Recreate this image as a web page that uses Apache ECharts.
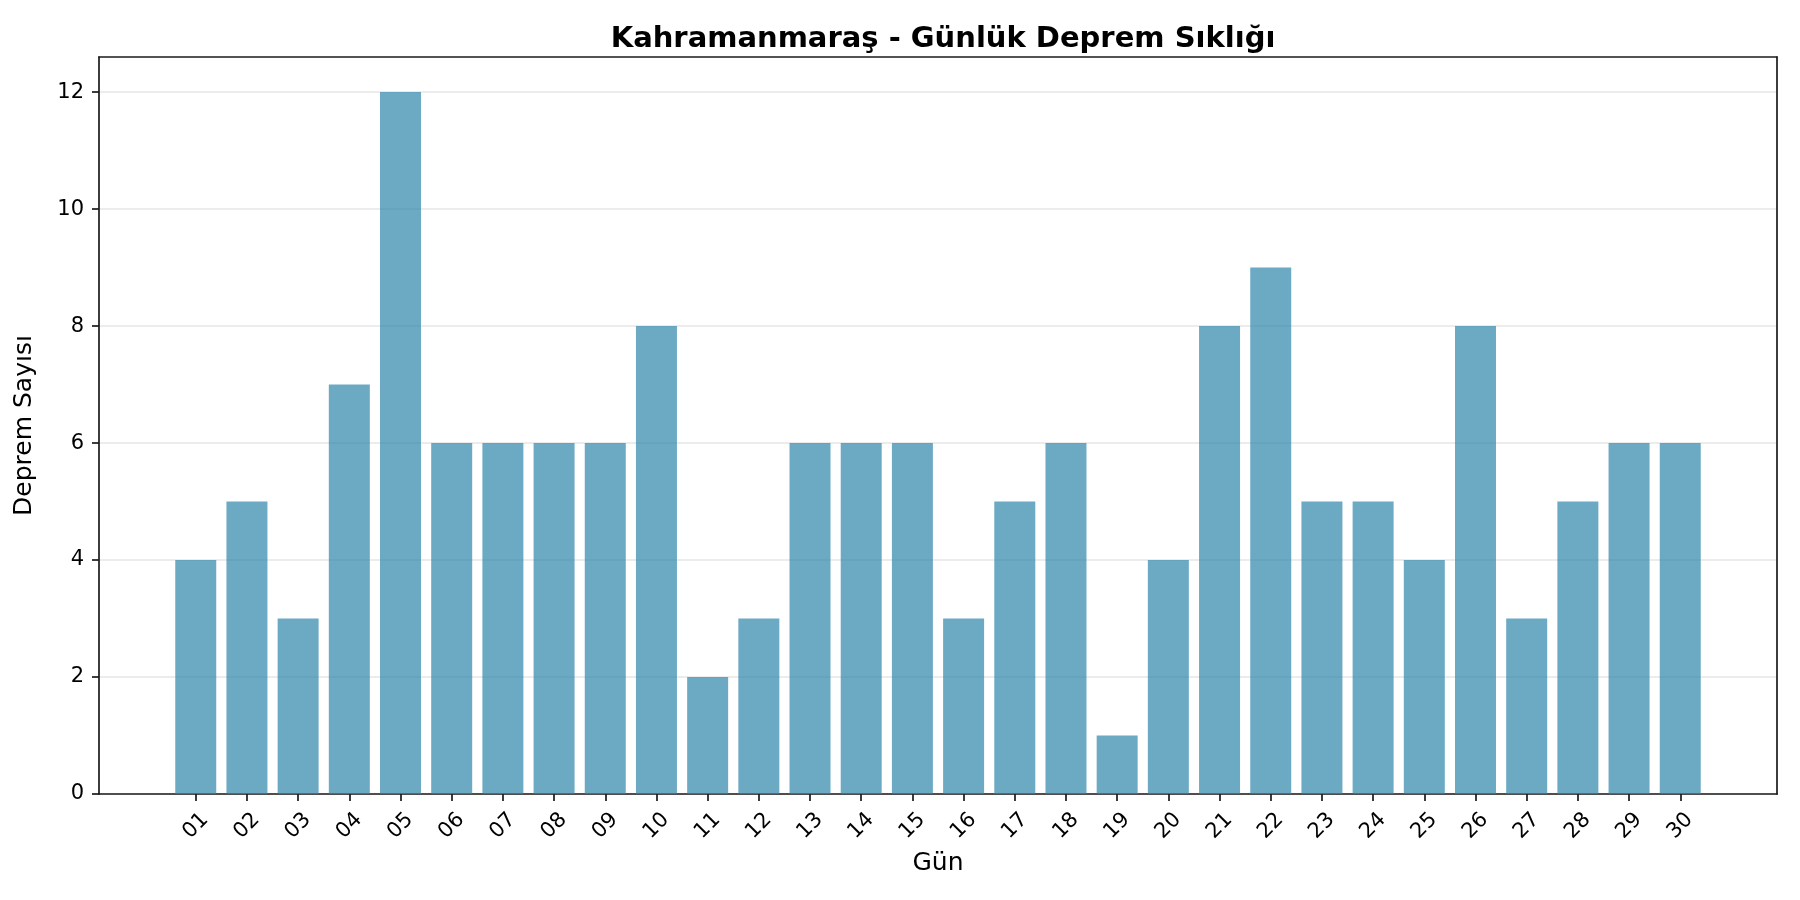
<!DOCTYPE html>
<html>
<head>
<meta charset="utf-8">
<script src="https://cdn.jsdelivr.net/npm/echarts@6/dist/echarts.min.js"></script>
<style>
  html, body { margin: 0; padding: 0; background: #fff; }
  #main { width: 1800px; height: 900px; }
</style>
</head>
<body>
<div id="main"></div>
<script>
// günler ve deprem sayıları
const days = ['01','02','03','04','05','06','07','08','09','10','11','12','13','14','15',
              '16','17','18','19','20','21','22','23','24','25','26','27','28','29','30']
const counts = [4, 5, 3, 7, 12, 6, 6, 6, 6, 8, 2, 3, 6, 6, 6,
                3, 5, 6, 1, 4, 8, 9, 5, 5, 4, 8, 3, 5, 6, 6]
const yTicks = [0, 2, 4, 6, 8, 10, 12]

const FONT = 'DejaVu Sans'
const spine = { show: true, onZero: false, lineStyle: { color: '#1a1a1a', width: 1.7 } }
const tickIdx = days.map((d, i) => i)

let chart = echarts.init(document.getElementById('main'))
let option = {
  animation: false,
  backgroundColor: '#fff',
  title: {
    text: 'Kahramanmaraş - Günlük Deprem Sıklığı',
    left: 938, top: 20, textAlign: 'center',
    textStyle: { fontFamily: FONT, fontSize: 29, fontWeight: 'bold', color: '#000' }
  },
  grid: { left: 99, right: 23, top: 57, bottom: 106 },
  xAxis: [{
    type: 'value', min: -1.89, max: 30.89,
    name: 'Gün', nameLocation: 'middle', nameGap: 57,
    nameTextStyle: { fontFamily: FONT, fontSize: 25, color: '#000' },
    axisLine: spine,
    splitLine: { show: false },
    axisTick: { show: true, customValues: tickIdx, length: 7, lineStyle: { color: '#1a1a1a', width: 1.7 } },
    axisLabel: {
      customValues: tickIdx, rotate: 45, align: 'center', verticalAlign: 'middle', margin: 32,
      fontFamily: FONT, fontSize: 21, color: '#000',
      formatter: v => days[v]
    }
  }, {
    type: 'value', min: -1.89, max: 30.89, position: 'top',
    axisLine: spine, axisTick: { show: false }, axisLabel: { show: false }, splitLine: { show: false }
  }],
  yAxis: [{
    type: 'value', min: 0, max: 12.6, interval: 2,
    name: 'Deprem Sayısı', nameLocation: 'middle', nameGap: 62, nameRotate: 90,
    nameTextStyle: { fontFamily: FONT, fontSize: 25, color: '#000' },
    axisLine: spine,
    axisTick: { show: true, customValues: yTicks, length: 7, lineStyle: { color: '#1a1a1a', width: 1.7 } },
    axisLabel: { customValues: yTicks, margin: 15, fontFamily: FONT, fontSize: 21, color: '#000' },
    splitLine: { show: true, lineStyle: { color: '#e6e6e6', width: 1.6 } }
  }, {
    type: 'value', min: 0, max: 12.6, position: 'right',
    axisLine: spine, axisTick: { show: false }, axisLabel: { show: false }, splitLine: { show: false }
  }],
  series: [{
    type: 'bar',
    barWidth: 41,
    data: counts.map((c, i) => [i, c]),
    itemStyle: { color: 'rgba(46,134,171,0.7)' }
  }]
}
chart.setOption(option)
</script>
</body>
</html>
